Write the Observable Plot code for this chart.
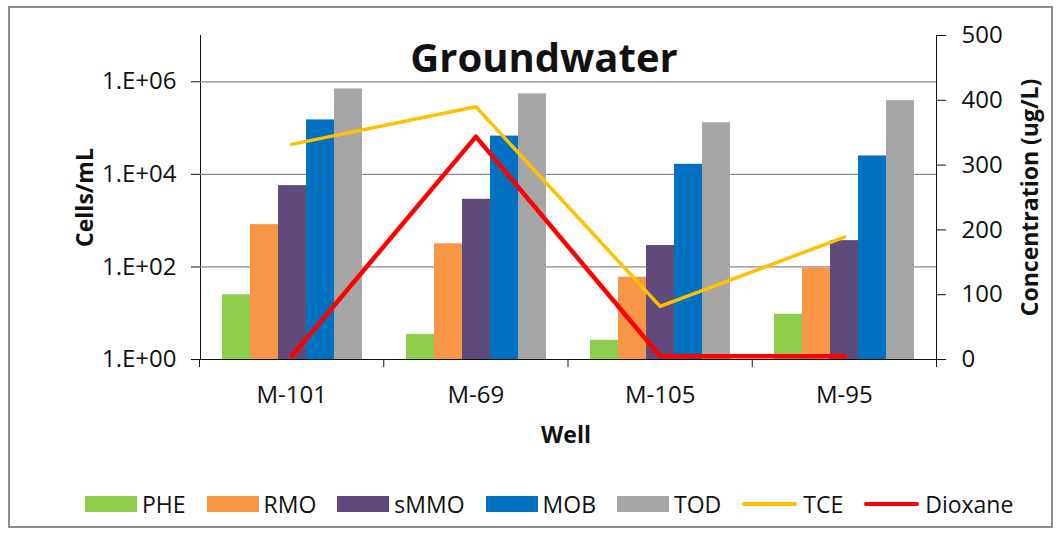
<!DOCTYPE html>
<html>
<head>
<meta charset="utf-8">
<script src="https://cdn.jsdelivr.net/npm/d3@7"></script>
<script src="https://cdn.jsdelivr.net/npm/@observablehq/plot@0.6"></script>
<style>
  html, body { margin: 0; padding: 0; background: #ffffff; }
  #chart { position: relative; width: 1062px; height: 535px; background: #fff; overflow: hidden; font-family: "Open Sans", sans-serif; }
  #border { position: absolute; left: 8px; top: 6px; width: 1045px; height: 522px; border: 2px solid #8c8c8c; box-sizing: border-box; }
  .layer { position: absolute; left: 0; top: 0; }
  .layer svg { display: block; }
  #legend { position: absolute; left: 85px; top: 488px; display: flex; align-items: center; font-size: 23px; color: #111; white-space: nowrap; }
  .item { display: flex; align-items: center; margin-right: 21px; }
  .sw { width: 52px; height: 16px; margin-right: 5px; }
  .ln { width: 55px; height: 4px; margin-right: 6px; border-radius: 2px; }
</style>
</head>
<body>
<div id="chart">
  <div id="border"></div>
  <div id="bars" class="layer"></div>
  <div id="lines" class="layer"></div>
  <div id="legend"></div>
</div>
<script>
// ---- data ----
const chartTitle = "Groundwater";
const wells = ["M-101", "M-69", "M-105", "M-95"];
const series = ["PHE", "RMO", "sMMO", "MOB", "TOD"];
const PHE  = [25, 3.5, 2.6, 9.5];
const RMO  = [820, 316, 60, 95];
const sMMO = [5700, 2900, 290, 370];
const MOB  = [150000, 67000, 16500, 25000];
const TOD  = [700000, 550000, 130000, 390000];
const TCE     = [332, 390, 82, 189];
const Dioxane = [5, 344, 5, 5];
const leftTicks = [1, 100, 10000, 1000000];
const leftTickLabels = ["1.E+00", "1.E+02", "1.E+04", "1.E+06"];
const rightTicks = [0, 100, 200, 300, 400, 500];
const barColors = ["#8fce4c", "#f79646", "#604a7b", "#0070c0", "#a6a6a6"];
const lineSeries = ["TCE", "Dioxane"];
const lineColors = ["#ffc000", "#ff0000"];
const yLabel = "Cells/mL";
const y2Label = "Concentration (ug/L)";
const xLabel = "Well";

// ---- build tables ----
const bacteria = {PHE, RMO, sMMO, MOB, TOD};
const rows = wells.flatMap((w, i) => series.map(s => ({well: w, series: s, value: bacteria[s][i]})));
const chem = {TCE, Dioxane};
const lineRows = lineSeries.map(s => wells.map((w, i) => ({idx: i, well: w, series: s, value: chem[s][i]})));

const W = 1062, H = 535;
const margins = {marginLeft: 199, marginRight: 126, marginTop: 35, marginBottom: 176};
const baseStyle = {fontFamily: "Open Sans, sans-serif", fontSize: "24px", color: "#111", background: "transparent", overflow: "visible"};
const centered = {textAnchor: "middle", lineAnchor: "middle"};

// ---- bar layer (log scale, left axis) ----
const barPlot = Plot.plot({
  width: W, height: H, ...margins,
  style: baseStyle,
  facet: {data: rows, x: "well"},
  fx: {domain: wells, padding: 0, axis: null},
  x: {domain: series, axis: null, paddingInner: 0, paddingOuter: 0.71},
  y: {type: "log", domain: [1, 1e7], ticks: leftTicks,
      tickFormat: d => leftTickLabels[leftTicks.indexOf(d)],
      tickSize: 9, tickPadding: 15, line: true, label: null},
  color: {domain: series, range: barColors},
  marks: [
    Plot.ruleY(leftTicks.slice(1), {stroke: "#8a8a8a", strokeWidth: 1.2}),
    Plot.barY(rows, {x: "series", y1: 1, y2: "value", fill: "series"})
  ]
});
document.getElementById("bars").append(barPlot);

// ---- line layer (linear, right axis) ----
const linePlot = Plot.plot({
  width: W, height: H, ...margins,
  style: baseStyle,
  x: {type: "linear", domain: [-0.5, wells.length - 0.5],
      ticks: d3.range(wells.length + 1).map(i => i - 0.5),
      tickFormat: () => "", tickSize: 8, line: true, label: null},
  y: {domain: [0, 500], ticks: rightTicks, axis: "right", tickSize: 9, tickPadding: 16, line: true, label: null},
  marks: [
    Plot.line(lineRows[0], {x: "idx", y: "value", stroke: lineColors[0], strokeWidth: 3.5}),
    Plot.line(lineRows[1], {x: "idx", y: "value", stroke: lineColors[1], strokeWidth: 4.5}),
    Plot.text(wells, {x: (d, i) => i, text: d => d, frameAnchor: "bottom", dy: 36, fontSize: 24, ...centered}),
    Plot.text([chartTitle], {text: d => d, frameAnchor: "top", dy: 24, dx: -24, fontSize: 40, fontWeight: "bold", ...centered}),
    Plot.text([xLabel], {text: d => d, frameAnchor: "bottom", dy: 76, dx: -2, fontSize: 23, fontWeight: "bold", ...centered}),
    Plot.text([yLabel], {text: d => d, frameAnchor: "left", dx: -114, rotate: -90, fontSize: 23, fontWeight: "bold", ...centered}),
    Plot.text([y2Label], {text: d => d, frameAnchor: "right", dx: 94, rotate: -90, fontSize: 23, fontWeight: "bold", ...centered})
  ]
});
document.getElementById("lines").append(linePlot);

// ---- legend ----
const legend = d3.select("#legend");
series.forEach((s, i) => {
  const it = legend.append("div").attr("class", "item");
  it.append("div").attr("class", "sw").style("background", barColors[i]);
  it.append("span").text(s);
});
lineSeries.forEach((s, i) => {
  const it = legend.append("div").attr("class", "item");
  it.append("div").attr("class", "ln").style("background", lineColors[i]);
  it.append("span").text(s);
});
</script>
</body>
</html>
